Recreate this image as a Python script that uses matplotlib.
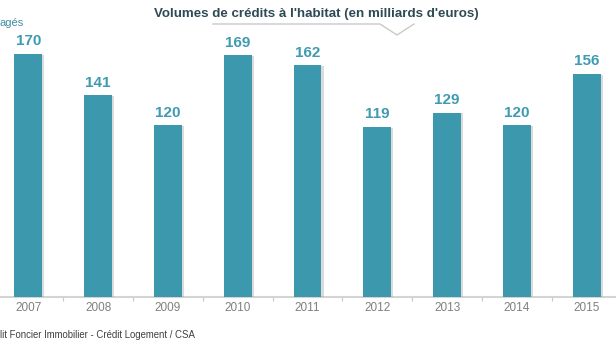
import matplotlib
matplotlib.use("Agg")
import matplotlib.pyplot as plt
import matplotlib.patheffects as pe
from matplotlib.lines import Line2D

years = ["2007", "2008", "2009", "2010", "2011", "2012", "2013", "2014", "2015"]
volumes = [170, 141, 120, 169, 162, 119, 129, 120, 156]
title = "Volumes de crédits à l'habitat (en milliards d'euros)"
unit_label = "agés"
source = "lit Foncier Immobilier - Crédit Logement / CSA"

plt.rcParams['font.family'] = ['Liberation Sans', 'DejaVu Sans']

W, H = 616, 346
fig = plt.figure(figsize=(W / 100, H / 100), dpi=100)
fig.patch.set_facecolor("white")

x0, step = 28.3, 69.8
base_px = 297
top_px = 12
ax = fig.add_axes([0, 1 - base_px / H, 1, (base_px - top_px) / H])
xs = list(range(len(years)))
ax.set_xlim(-x0 / step, (W - x0) / step)
ymax = (base_px - top_px) / 1.43
ax.set_ylim(0, ymax)

bar_color = "#3b98ad"
bars = ax.bar(xs, volumes, width=0.4, color=bar_color, zorder=3)
for b in bars:
    b.set_path_effects([pe.SimplePatchShadow(offset=(1.5, -0.5), shadow_rgbFace="#999999", alpha=0.35),
                        pe.Normal()])

for x, v in zip(xs, volumes):
    ax.annotate(str(v), (x, v), xytext=(0, 4), textcoords="offset points",
                ha="center", va="bottom", fontsize=11, fontweight="bold",
                color="#3f9bb1", zorder=4)

for s in ["top", "right", "left"]:
    ax.spines[s].set_visible(False)
ax.spines["bottom"].set_color("#d4d4d4")
ax.spines["bottom"].set_linewidth(1.5)
ax.set_yticks([])
ax.set_xticks([x + 0.5 for x in xs[:-1]])
ax.set_xticklabels([])
ax.tick_params(axis="x", length=3, color="#c8c8c8", width=0.8)
for x, y in zip(xs, years):
    ax.text(x, -0.04 * ymax, y, ha="center", va="center", fontsize=8.5,
            color="#7f7f7f", transform=ax.transData)

# title and callout line
fig.text(316 / W, 1 - 14 / H, title, ha="center", va="center", fontsize=9.6,
         fontweight="bold", color="#2e4a55")
lx = [213, 380, 397, 414]
ly = [24, 24, 35, 24]
fig.add_artist(Line2D([p / W for p in lx], [1 - p / H for p in ly],
                      color="#c9c9c9", linewidth=1.0))

fig.text(0 / W, 1 - 23 / H, unit_label, ha="left", va="center", fontsize=8,
         color="#3f8fa3")
fig.text(0 / W, 1 - 335 / H, source, ha="left", va="center", fontsize=6.9,
         color="#404040")

fig.savefig("out.png", dpi=100, facecolor="white")
